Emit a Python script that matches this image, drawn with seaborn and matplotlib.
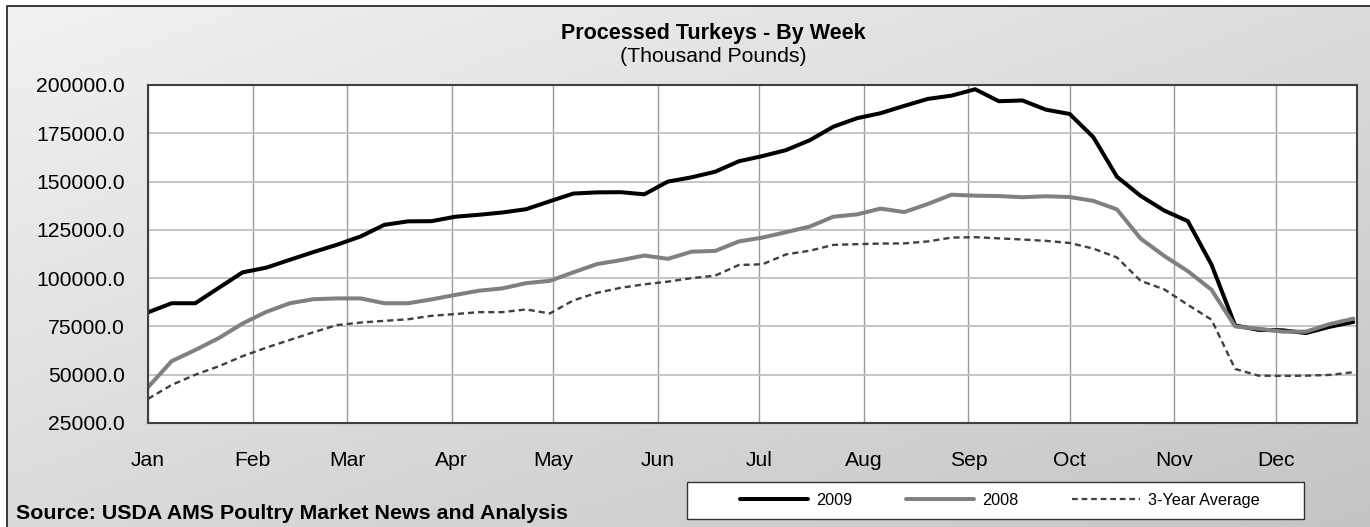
import numpy as np
import pandas as pd
import matplotlib

matplotlib.use("Agg")
import matplotlib.pyplot as plt
import seaborn as sns
from matplotlib.patches import Rectangle
from matplotlib.lines import Line2D

# weekly values, thousand pounds
week_day = [0, 7, 14, 21, 28, 35, 42, 49, 56, 63, 70, 77, 84, 91, 98, 105, 112,
            119, 126, 133, 140, 147, 154, 161, 168, 175, 182, 189, 196, 203, 210,
            217, 224, 231, 238, 245, 252, 259, 266, 273, 280, 287, 294, 301, 308,
            315, 322, 329, 336, 343, 350, 357]
y2009 = [82300, 87000, 87000, 95000, 103000, 105400, 109500, 113500, 117300, 121600,
         127600, 129400, 129500, 131800, 132800, 134000, 135700, 139800, 143800, 144400,
         144500, 143400, 150000, 152200, 155100, 160500, 163200, 166300, 171400, 178400,
         182800, 185400, 189200, 192800, 194500, 197800, 191600, 192000, 187200, 185000,
         173000, 152500, 142600, 135000, 129500, 107000, 75500, 73200, 73000, 71600,
         74800, 77300]
y2008 = [43500, 57000, 62800, 69000, 76500, 82500, 87000, 89100, 89500, 89500,
         87000, 87000, 89000, 91300, 93500, 94700, 97400, 98600, 103000, 107300,
         109300, 111700, 110000, 113700, 114100, 119000, 121000, 123800, 126700, 131800,
         133000, 136000, 134200, 138400, 143200, 142700, 142500, 141900, 142400, 142000,
         140000, 135600, 120500, 111500, 103600, 94000, 75000, 73800, 72300, 72300,
         76200, 79000]
avg3 = [37500, 44700, 50000, 54400, 59600, 64000, 68000, 72000, 75700, 77000,
        77900, 78700, 80500, 81400, 82400, 82400, 83800, 81700, 88500, 92400,
        95000, 96800, 98200, 100000, 101300, 106800, 107200, 112300, 114200, 117200,
        117600, 117900, 118000, 119000, 121000, 121200, 120600, 120000, 119300, 118200,
        115300, 110700, 98600, 94200, 86200, 78500, 53000, 49500, 49400, 49500,
        49900, 51300]

months = ["Jan", "Feb", "Mar", "Apr", "May", "Jun", "Jul", "Aug", "Sep", "Oct", "Nov", "Dec"]
month_start = [0, 31, 59, 90, 120, 151, 181, 212, 243, 273, 304, 334]
y_ticks = [25000, 50000, 75000, 100000, 125000, 150000, 175000, 200000]

df = pd.DataFrame({"day": week_day, "2009": y2009, "2008": y2008, "3-Year Average": avg3})

sns.set_style("white")
plt.rcParams["font.family"] = ["Liberation Sans", "DejaVu Sans"]
plt.rcParams["text.color"] = "black"
plt.rcParams["xtick.color"] = "black"
plt.rcParams["ytick.color"] = "black"

W, H = 1370, 527
fig = plt.figure(figsize=(W / 100, H / 100), dpi=100)

# grey gradient background with frame
bg = fig.add_axes([0, 0, 1, 1], zorder=0)
bg.set_xlim(0, W)
bg.set_ylim(H, 0)
bg.axis("off")
gy, gx = np.mgrid[0:1:200j, 0:1:200j]
shade = 0.945 - 0.085 * gx - 0.09 * gy
bg.imshow(shade, cmap="gray", vmin=0, vmax=1, extent=(7, W, H, 6),
          aspect="auto", interpolation="bilinear")
bg.plot([7, 7, W], [H, 6, 6], color="#1a1a1a", lw=1.2)

ax = fig.add_axes([148 / W, 1 - 423 / H, (1357 - 148) / W, (423 - 85) / H], zorder=1)
ax.set_facecolor("white")

sns.lineplot(data=df, x="day", y="2009", ax=ax, color="black", lw=2.9)
sns.lineplot(data=df, x="day", y="2008", ax=ax, color="#808080", lw=2.9)
sns.lineplot(data=df, x="day", y="3-Year Average", ax=ax, color="#404040", lw=1.7)
for ln in ax.get_lines():
    ln.set_solid_joinstyle("round")
    ln.set_dash_joinstyle("round")
ax.get_lines()[2].set_dashes((2.6, 1.7))

ax.set_xlim(0, 358.1)
ax.set_ylim(25000, 200000)
ax.set_xticks(month_start)
ax.set_xticklabels(months)
ax.set_yticks(y_ticks)
ax.set_yticklabels([f"{v:.1f}" for v in y_ticks])
ax.tick_params(axis="x", length=0, labelsize=15.2, pad=20.5, labelcolor="black")
ax.tick_params(axis="y", length=0, labelsize=15.2, pad=16.5, labelcolor="black")
ax.set_xlabel("")
ax.set_ylabel("")
ax.xaxis.grid(True, color="#9a9a9a", lw=1.0)
ax.yaxis.grid(True, color="#c0c0c0", lw=1.3)
ax.set_axisbelow(True)
for s in ax.spines.values():
    s.set_visible(True)
    s.set_color("#404040")
    s.set_linewidth(1.5)

fig.text(713 / W, 1 - 38.5 / H, "Processed Turkeys - By Week", ha="center",
         va="baseline", fontsize=15.5, fontweight="bold", color="black")
fig.text(713 / W, 1 - 62.5 / H, "(Thousand Pounds)", ha="center",
         va="baseline", fontsize=15.3, color="black")
fig.text(16.5 / W, 1 - 519 / H, "Source: USDA AMS Poultry Market News and Analysis",
         ha="left", va="baseline", fontsize=15.4, fontweight="bold", color="black")

# legend box
fig.add_artist(Rectangle((687 / W, 1 - 519 / H), (1304 - 687) / W, (519 - 482) / H,
                         transform=fig.transFigure, facecolor="white",
                         edgecolor="#333333", lw=1.0, zorder=2))
handles = [
    Line2D([], [], color="black", lw=2.9),
    Line2D([], [], color="#808080", lw=2.9),
    Line2D([], [], color="#404040", lw=1.6, dashes=(2.6, 1.7)),
]
leg = fig.legend(handles, ["2009", "2008", "3-Year Average"], loc="center",
                 bbox_to_anchor=(1000 / W, 1 - 500.5 / H), ncol=3, frameon=False,
                 fontsize=11.7, handlelength=4.2, handletextpad=0.5,
                 columnspacing=3.3, labelcolor="black")
leg.set_zorder(3)

fig.savefig("out.png", dpi=100)
